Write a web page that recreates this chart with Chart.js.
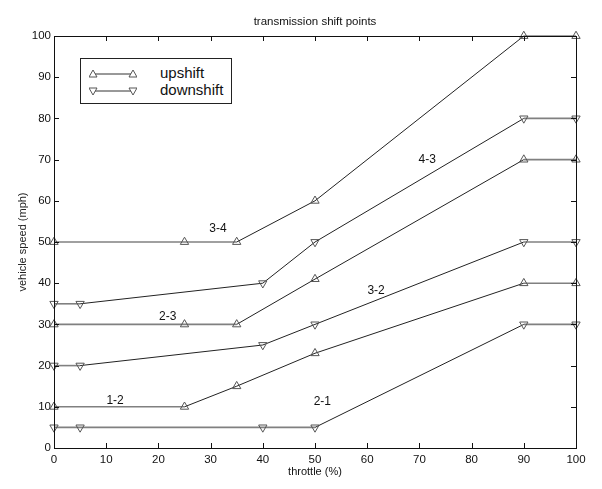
<!DOCTYPE html>
<html lang="en">
<head>
  <meta charset="UTF-8" />
  <title>transmission shift points</title>
  <script src="https://cdn.jsdelivr.net/npm/chart.js"></script>
  <style>
    html, body { margin: 0; padding: 0; background: #fff; }
    #wrap { position: relative; width: 602px; height: 489px; }
    #legend {
      position: absolute; left: 80px; top: 58px; width: 150px; height: 44px;
      border: 1px solid #222; background: #fff;
      font-family: "Liberation Sans", Arial, sans-serif; font-size: 15px; color: #111;
    }
    #legend .row { position: absolute; left: 0; height: 16px; line-height: 16px; }
    #legend svg { position: absolute; left: 8px; top: 0; }
    #legend span { position: absolute; left: 79px; top: -1px; white-space: nowrap; }
  </style>
</head>
<body>
<div id="wrap">
  <canvas id="shiftChart"></canvas>
  <div id="legend">
    <div class="row" style="top:7px">
      <svg width="48" height="16"><line x1="4" y1="8" x2="44" y2="8" stroke="#333" stroke-width="1"/>
        <polygon points="4,4 8,11 0,11" fill="#fff" stroke="#555"/><polygon points="44,4 48,11 40,11" fill="#fff" stroke="#555"/></svg>
      <span>upshift</span>
    </div>
    <div class="row" style="top:24px">
      <svg width="48" height="16"><line x1="4" y1="8" x2="44" y2="8" stroke="#333" stroke-width="1"/>
        <polygon points="0,5 8,5 4,12" fill="#fff" stroke="#555"/><polygon points="40,5 48,5 44,12" fill="#fff" stroke="#555"/></svg>
      <span>downshift</span>
    </div>
  </div>
</div>

<script>
  // throttle (%) at each shift point
  const upThrottle = [0, 25, 35, 50, 90, 100];
  const downThrottle = [0, 5, 40, 50, 90, 100];

  // vehicle speed (mph)
  const up12 = [10, 10, 15, 23, 40, 40];
  const up23 = [30, 30, 30, 41, 70, 70];
  const up34 = [50, 50, 50, 60, 100, 100];
  const down21 = [5, 5, 5, 5, 30, 30];
  const down32 = [20, 20, 25, 30, 50, 50];
  const down43 = [35, 35, 40, 50, 80, 80];

  const xTicks = [0, 10, 20, 30, 40, 50, 60, 70, 80, 90, 100];
  const yTicks = [0, 10, 20, 30, 40, 50, 60, 70, 80, 90, 100];

  // curve labels: text, throttle, speed
  const curveLabels = [
    ['3-4', 31.4, 53.2],
    ['2-3', 21.8, 31.8],
    ['1-2', 11.7, 11.5],
    ['4-3', 71.5, 69.9],
    ['3-2', 61.7, 38.2],
    ['2-1', 51.4, 11.2]
  ];

  const FONT = '"Liberation Sans", Arial, sans-serif';

  function points(xs, ys) {
    return xs.map((x, i) => ({ x: x, y: ys[i] }));
  }

  function makeSet(label, xs, ys, down) {
    return {
      label: label,
      data: points(xs, ys),
      clip: false,
      borderColor: '#222',
      borderWidth: 1,
      pointStyle: 'triangle',
      pointRotation: down ? 180 : 0,
      pointRadius: 4.8,
      pointBorderWidth: 1,
      pointBorderColor: '#555',
      pointBackgroundColor: 'rgba(255,255,255,0)',
      segment: {
        borderColor: ctx => ctx.p0.parsed.y === ctx.p1.parsed.y ? '#808080' : '#222',
        borderWidth: ctx => ctx.p0.parsed.y === ctx.p1.parsed.y ? 1.6 : 1
      }
    };
  }

  // frame, inward ticks, title and curve labels
  const framePlugin = {
    id: 'frame',
    afterDraw(chart) {
      const { ctx, chartArea: a, scales } = chart;
      ctx.save();
      ctx.strokeStyle = '#111';
      ctx.lineWidth = 1;
      ctx.strokeRect(a.left + 0.5, a.top + 0.5, a.right - a.left, a.bottom - a.top);
      ctx.beginPath();
      const len = 5;
      xTicks.forEach(v => {
        const px = Math.round(scales.x.getPixelForValue(v)) + 0.5;
        ctx.moveTo(px, a.bottom); ctx.lineTo(px, a.bottom - len);
        ctx.moveTo(px, a.top); ctx.lineTo(px, a.top + len);
      });
      yTicks.forEach(v => {
        const py = Math.round(scales.y.getPixelForValue(v)) + 0.5;
        ctx.moveTo(a.left, py); ctx.lineTo(a.left + len, py);
        ctx.moveTo(a.right, py); ctx.lineTo(a.right - len, py);
      });
      ctx.stroke();

      ctx.fillStyle = '#111';
      ctx.textAlign = 'center';
      ctx.textBaseline = 'middle';
      ctx.font = '11.5px ' + FONT;
      ctx.fillText('transmission shift points', (a.left + a.right) / 2, 22);

      ctx.font = '12px ' + FONT;
      curveLabels.forEach(([t, x, y]) => {
        ctx.fillText(t, scales.x.getPixelForValue(x), scales.y.getPixelForValue(y));
      });
      ctx.restore();
    }
  };

  new Chart(document.getElementById('shiftChart').getContext('2d'), {
    type: 'line',
    data: {
      datasets: [
        makeSet('upshift 1-2', upThrottle, up12, false),
        makeSet('upshift 2-3', upThrottle, up23, false),
        makeSet('upshift 3-4', upThrottle, up34, false),
        makeSet('downshift 2-1', downThrottle, down21, true),
        makeSet('downshift 3-2', downThrottle, down32, true),
        makeSet('downshift 4-3', downThrottle, down43, true)
      ]
    },
    options: {
      responsive: true,
      maintainAspectRatio: false,
      animation: false,
      devicePixelRatio: 1,
      layout: { padding: { top: 36, right: 26, left: 0, bottom: 0 } },
      plugins: {
        legend: { display: false },
        tooltip: { enabled: false }
      },
      scales: {
        x: {
          type: 'linear',
          min: 0, max: 100,
          afterFit: s => { s.height = 41; },
          afterBuildTicks: s => { s.ticks = xTicks.map(v => ({ value: v })); },
          grid: { display: false, drawTicks: false },
          border: { display: false },
          ticks: { color: '#111', padding: 5, maxRotation: 0, font: { family: FONT, size: 11.5 } },
          title: { display: true, text: 'throttle (%)', color: '#111', padding: { top: 0, bottom: 10 }, font: { family: FONT, size: 11 } }
        },
        y: {
          type: 'linear',
          min: 0, max: 100,
          afterFit: s => { s.width = 54; },
          afterBuildTicks: s => { s.ticks = yTicks.map(v => ({ value: v })); },
          grid: { display: false, drawTicks: false },
          border: { display: false },
          ticks: { color: '#111', padding: 3, font: { family: FONT, size: 11.5 } },
          title: { display: true, text: 'vehicle speed (mph)', color: '#222', padding: { top: 16, bottom: 0 }, font: { family: FONT, size: 11 } }
        }
      }
    },
    plugins: [framePlugin]
  });
</script>
</body>
</html>
